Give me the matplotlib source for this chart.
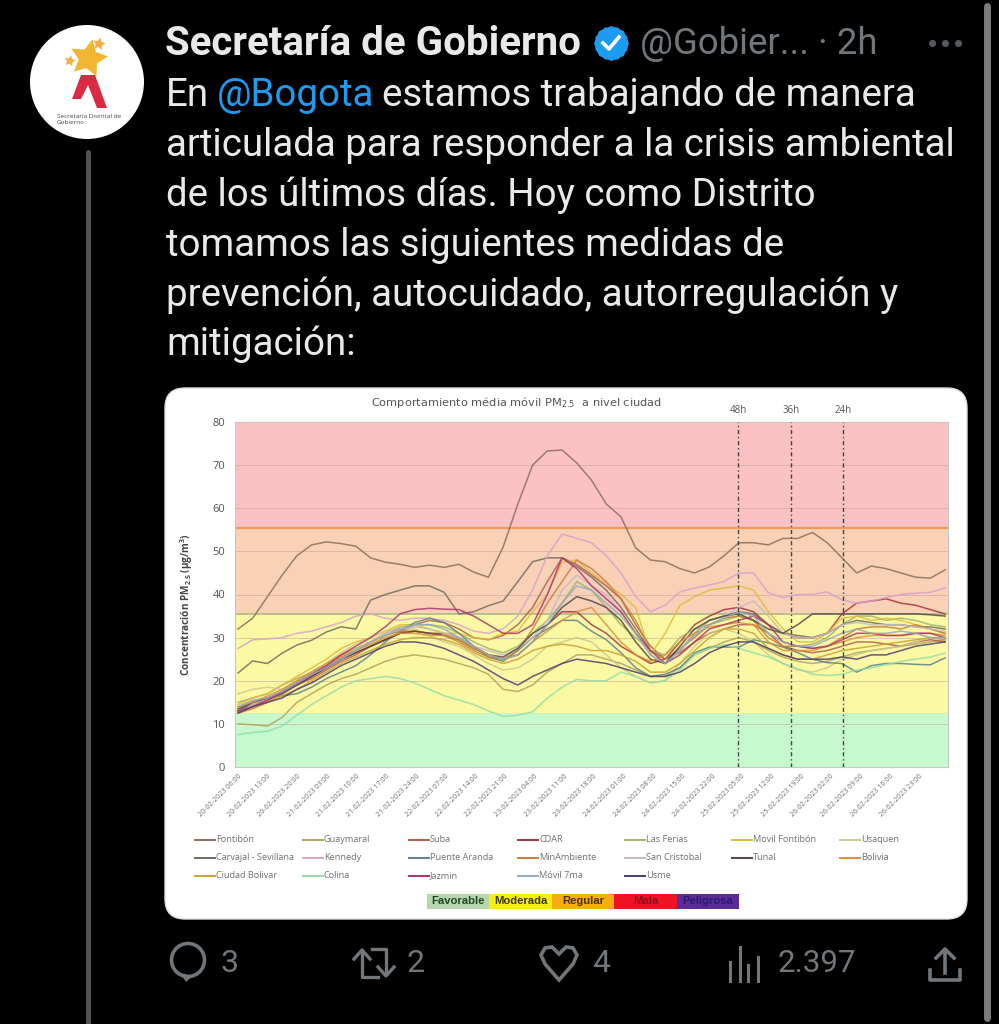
#!/usr/bin/env python3
# -*- coding: utf-8 -*-

import numpy as np
import matplotlib
matplotlib.use('Agg')
import matplotlib.pyplot as plt
from matplotlib.patches import Circle, FancyBboxPatch, Polygon, Rectangle

W, H = 999, 1024

# Datos: un valor cada 3.5 h desde 20-02 06:00
horas = np.arange(49) * 3.5

fontibon = [32, 34.5, 39.5, 44.5, 49, 51.5, 52.2, 51.8, 51.2, 48.5,
            47.5, 47, 46.3, 46.8, 46.3, 47, 45.2, 44, 51, 61,
            70, 73.3, 73.5, 70.5, 66.5, 61, 58, 50.8, 48, 47.6,
            46, 45, 46.4, 49, 52, 52, 51.5, 53, 53, 54.4,
            52, 48.5, 45, 46.6, 46, 45, 44, 43.8, 45.7]
guaymaral = [10, 9.8, 9.5, 11.5, 15, 17, 19, 20.5, 21.5, 23,
             24.5, 25.5, 26, 25.5, 25, 24, 23, 21.5, 18, 17.5,
             19, 22, 24, 26, 26, 25, 24, 22.5, 21, 21,
             23, 26, 27.5, 29, 30, 29, 27, 25.5, 24.5, 24,
             24.5, 25.5, 26.5, 27, 27.5, 28, 28.5, 29, 29.5]
suba = [13, 14.5, 15.5, 17, 19, 20.5, 22.5, 24.5, 26, 28,
        29.5, 31, 33, 34, 33.5, 32, 30, 29.5, 30.5, 33,
        37, 43, 48.5, 47, 44.5, 42, 39, 33, 28, 25,
        26.5, 29, 31, 32, 33, 33, 31, 28, 27, 26.5,
        27, 28, 29, 29, 28.5, 28, 29, 29.5, 29]
cdar = [13, 15, 16, 17.5, 19, 21, 23, 25, 26.5, 28,
        29.5, 31, 31.5, 31, 31, 30, 28, 26, 25, 26,
        29, 33, 36, 36, 33, 31, 28, 26, 24, 25,
        29, 33, 35, 36.5, 37, 36, 33, 31, 30, 30,
        31, 35.5, 38, 38.5, 39, 38, 37.5, 36.5, 35.5]
las_ferias = [15, 16, 17, 19, 20.5, 22, 24, 26, 27.5, 29,
              31, 32.5, 33, 33, 32.5, 31, 29, 27.5, 26.5, 28,
              31, 34, 38, 43, 41, 37, 33, 30, 27, 26,
              30, 32, 33, 34, 35, 34, 31, 29, 28, 28.5,
              30, 33, 35, 35, 34, 34.5, 34, 33, 32.5]
movil_fontibon = [14.5, 16, 17, 19, 21, 23, 25, 27.5, 29, 30,
                  31.5, 33, 33, 32, 31, 31, 30, 29.5, 31, 31.5,
                  36, 40, 47.5, 48, 45, 42.5, 40, 37, 26, 31,
                  37.5, 39.5, 41, 41.5, 42, 41, 36, 32, 29, 29,
                  31, 34.5, 35, 34, 34.5, 34, 33, 32, 31]
usaquen = [17, 18, 18.5, 18, 20, 22, 24, 26.5, 28.5, 30,
           31.5, 32, 32, 30.5, 29, 28, 26, 24, 22.5, 23,
           25, 28, 29, 30, 29, 26, 23, 21, 19.5, 20,
           24, 28, 31, 32, 31, 29, 26, 24, 22.5, 22,
           23, 25, 26, 27, 27.5, 28, 29, 30, 30]
carvajal = [21.8, 24.6, 24, 26.4, 28.3, 29.4, 31.3, 32.5, 32, 38.7,
            40, 41, 42, 42, 40.5, 35.5, 36, 37.4, 38.5, 43,
            47.6, 48.5, 48.5, 46.5, 44, 41, 37, 32, 27, 25,
            27, 31, 34, 35, 36, 35.5, 33, 31, 30.5, 30,
            31, 33, 34, 33.5, 33, 33, 32.5, 32.5, 32]
kennedy = [27.5, 29.5, 29.7, 30, 31, 31.5, 32.5, 33.5, 35, 35.5,
           34.5, 34, 34.5, 34.5, 34, 33, 31.5, 31, 32, 35,
           41, 49, 54, 53, 52, 49, 45, 39.5, 36, 37.5,
           40.6, 41.5, 42.2, 43, 45, 45, 40.4, 39.3, 40, 40,
           40.6, 38.8, 38, 38.5, 39.3, 40, 40.3, 40.5, 41.5]
puente_aranda = [13, 15, 16, 16.5, 17, 18.5, 20.5, 22, 23.5, 26,
                 29, 31.5, 33.5, 34.5, 33.5, 31, 28, 25.5, 24.5, 27,
                 30, 32, 34, 34, 31.5, 29.5, 26.5, 23, 21, 21.5,
                 23, 26.5, 27.8, 27.8, 27.8, 29.5, 28.8, 27.8, 26.5, 25,
                 24.2, 24, 22, 23.5, 24, 24, 23.8, 23.7, 25.3]
min_ambiente = [12.5, 13.5, 15, 17, 19.5, 21.5, 23.5, 25.5, 27, 29,
                30.5, 31.5, 31.5, 31, 30.5, 29, 27, 25.5, 25, 27,
                32, 38, 43, 48, 46, 43, 39, 34, 27, 25,
                27.5, 30, 33, 34.5, 35, 34, 30, 28, 28, 27.5,
                28, 30, 32, 32.5, 32.5, 32, 33, 32, 31]
san_cristobal = [12.5, 14.5, 16, 17, 19, 21.5, 23.5, 25, 27, 29,
                 31, 32, 32.5, 32, 31, 30, 28, 27, 26, 27.5,
                 30, 34, 41, 44.5, 42, 40, 36, 31, 26, 24,
                 27, 31, 34, 35, 37, 38.5, 35, 31, 30, 30,
                 31, 33, 33.5, 33, 33, 33, 32.5, 32, 31.5]
tunal = [13.5, 15, 16, 17, 19, 21, 23, 25, 26.5, 28,
         29.5, 31, 31.5, 31, 30.5, 29.5, 27.5, 26, 25.5, 27.5,
         31, 33, 37, 39.5, 38.5, 37, 34, 29, 25, 24,
         28, 32, 34, 35, 35.5, 34, 32, 31, 33, 35.5,
         35.5, 35.5, 35.5, 35.5, 35.5, 35.5, 35.5, 35.3, 35]
bolivia = [14, 15, 16.5, 18, 20, 22, 24, 26, 27, 28.5,
           30, 31, 31, 30.5, 30.5, 29.5, 27.5, 26, 25, 26,
           29, 31.5, 34, 36, 37, 33, 29, 26, 24.5, 26,
           29, 31, 32.5, 33, 33.5, 33, 29, 27, 27, 27,
           28, 29, 30, 30.5, 30.5, 30.5, 31, 31, 30.5]
ciudad_bolivar = [12.5, 14, 15, 16.5, 18, 20, 22, 24, 25.5, 27,
                  28.5, 29.5, 30, 30, 29.5, 28.5, 26.5, 25, 24, 25,
                  27, 28, 28.5, 28, 27, 27, 26, 24.5, 22, 22,
                  24, 27, 30, 32, 32, 31, 27.5, 26, 25, 25,
                  26, 27, 27.5, 28, 28.5, 29, 29.5, 30, 29.5]
colina = [7.5, 8, 8.3, 9.5, 12, 14.5, 16.5, 18.5, 20, 20.5,
          21, 20.5, 19.5, 18, 16.5, 15.5, 14.5, 13, 11.7, 12,
          12.8, 16, 18.5, 20.3, 20, 20, 22, 21, 19.5, 20,
          22.5, 26, 27.5, 28.3, 27.5, 26.5, 25.5, 24, 22.8, 21.5,
          21.2, 21.5, 22.5, 23, 23.7, 24.5, 25, 25.5, 26.4]
jazmin = [13, 14, 15.5, 17.5, 19.5, 21.5, 23.5, 26, 28, 30,
          32.5, 35.5, 36.5, 36.8, 36.6, 36.5, 35, 33, 31, 31,
          33, 40, 48.5, 46, 42, 39, 36, 31, 27, 24,
          26, 29, 32, 33, 34, 35, 33, 29, 28, 27.5,
          28, 29.5, 31, 31, 30.5, 30.5, 31, 31, 30]
movil_7ma = [14, 15.5, 16, 17.5, 19.5, 21.5, 23, 25, 27, 29,
             30.5, 32, 33, 33, 32, 30, 28, 26, 25, 26,
             29, 33, 38, 42, 41, 38, 35, 31, 26, 24,
             27, 30.5, 33, 34.5, 36, 35, 31, 29, 28, 28,
             29.5, 31, 32, 31, 31, 31.5, 31, 30, 30]
usme = [12.5, 14, 15, 16, 18, 19.5, 21.5, 23.5, 25, 26.5,
        28, 29, 29, 28.5, 27.5, 26, 24.5, 22.5, 20.5, 19,
        21, 22.5, 24, 25, 24.5, 24, 23, 22, 21, 21,
        22, 24, 26.5, 28, 29, 29, 27.5, 26, 25, 25,
        25, 25.5, 25, 26, 26, 27, 28, 28.5, 29]

# Orden de la leyenda, fila por fila
series = [('Fontibón', fontibon, '#8c6f5c'), ('Guaymaral', guaymaral, '#b3a25e'),
          ('Suba', suba, '#b65a4e'), ('CDAR', cdar, '#a83242'),
          ('Las Ferias', las_ferias, '#9fb36c'), ('Movil Fontibón', movil_fontibon, '#e2bb3c'),
          ('Usaquen', usaquen, '#cdc88c'), ('Carvajal - Sevillana', carvajal, '#736c60'),
          ('Kennedy', kennedy, '#d8a2cc'), ('Puente Aranda', puente_aranda, '#5a8290'),
          ('MinAmbiente', min_ambiente, '#cc7c3c'), ('San Cristobal', san_cristobal, '#c6bac2'),
          ('Tunal', tunal, '#50484a'), ('Bolivia', bolivia, '#dc9038'),
          ('Ciudad Bolivar', ciudad_bolivar, '#c9a232'), ('Colina', colina, '#92dfaa'),
          ('Jazmin', jazmin, '#b23272'), ('Móvil 7ma', movil_7ma, '#92a9c0'),
          ('Usme', usme, '#4c3c72')]

etiquetas_x = ['20-02-2023 06:00', '20-02-2023 13:00', '20-02-2023 20:00',
               '21-02-2023 03:00', '21-02-2023 10:00', '21-02-2023 17:00',
               '21-02-2023 24:00', '22-02-2023 07:00', '22-02-2023 14:00',
               '22-02-2023 21:00', '23-02-2023 04:00', '23-02-2023 11:00',
               '23-02-2023 18:00', '24-02-2023 01:00', '24-02-2023 08:00',
               '24-02-2023 15:00', '24-02-2023 22:00', '25-02-2023 05:00',
               '25-02-2023 12:00', '25-02-2023 19:00', '26-02-2023 02:00',
               '26-02-2023 09:00', '26-02-2023 16:00', '26-02-2023 23:00']

bandas = [(0, 12.5, '#c7f9cf'), (12.5, 35.5, '#fbf9a4'),
          (35.5, 55.5, '#f8d1b6'), (55.5, 80, '#fcc1c3')]
marcas_h = [(118.8, '48h'), (131.4, '36h'), (143.7, '24h')]
escala = [('Favorable', '#b7d6ae', '#1f4a26'), ('Moderada', '#f6ee12', '#3a3a10'),
          ('Regular', '#f4ad12', '#4a3208'), ('Mala', '#ee1222', '#8a1020'),
          ('Peligrosa', '#5b2c98', '#2a1a70')]

tuit = ['articulada para responder a la crisis ambiental',
        'de los últimos días. Hoy como Distrito',
        'tomamos las siguientes medidas de',
        'prevención, autocuidado, autorregulación y',
        'mitigación:']

plt.rcParams['mathtext.default'] = 'regular'

fig = plt.figure(figsize=(W / 100, H / 100), dpi=100, facecolor='black')

# Eje de fondo en pixeles para el tuit
bg = fig.add_axes([0, 0, 1, 1])
bg.set_xlim(0, W)
bg.set_ylim(H, 0)
bg.axis('off')

# Linea del hilo, barra de la derecha y avatar
bg.plot([87.5, 87.5], [152, H], color='#505254', lw=3.6, solid_capstyle='round')
bg.plot([987, 987], [6, 1018], color='#7c7c7c', lw=5, solid_capstyle='round')
bg.add_patch(Circle((87, 82), 57, color='white', lw=0))
bg.scatter([88], [58], s=800, marker=(5, 1, -12), color='#f2b632', linewidths=0)
bg.scatter([70, 99], [61, 44], s=[70, 90], marker=(5, 1, -12), color='#f2b04a', linewidths=0)
bg.add_patch(Polygon([(81, 75), (95, 75), (107, 108), (97, 108), (88, 85), (81, 99), (72, 99)],
                     color='#dc2a44', lw=0))
bg.text(57, 116, 'Secretaría Distrital de', fontsize=4.6, color='#444444', va='center', family='Open Sans')
bg.text(57, 123, 'Gobierno', fontsize=4.6, color='#444444', va='center', family='Open Sans')

# Encabezado
bg.text(165, 44, 'Secretaría de Gobierno', fontsize=29, fontweight='bold', color='#e7e9ea',
        family='Roboto', va='center')
bg.scatter([611, 611], [43, 43], s=620, marker=(8, 0, 0), color='#1d9bf0', linewidths=0)
bg.scatter([611], [43], s=620, marker=(8, 0, 22.5), color='#1d9bf0', linewidths=0)
bg.plot([603, 609, 619], [43, 49, 37], color='white', lw=2.6)
bg.text(640, 44, '@Gobier... · 2h', fontsize=26.4, color='#71767b', family='Roboto', va='center')
bg.scatter([932, 945, 958], [43, 43, 43], s=26, color='#55595d', linewidths=0)

# Texto del tuit
f_tuit = dict(fontsize=27.7, family='Roboto', va='center')
bg.text(166, 96, 'En', color='#e7e9ea', **f_tuit)
bg.text(217, 96, '@Bogota', color='#1d9bf0', **f_tuit)
bg.text(382, 96, 'estamos trabajando de manera', color='#e7e9ea', **f_tuit)
for i, linea in enumerate(tuit):
    bg.text(166, 146 + i * 49.6, linea, color='#e7e9ea', **f_tuit)

# Tarjeta blanca con la imagen
bg.add_patch(FancyBboxPatch((183, 406), 766, 495, boxstyle='round,pad=18,rounding_size=20',
                            facecolor='white', edgecolor='#dddddd', lw=1))

# Grafico
ax = fig.add_axes([235 / W, 1 - 767 / H, (948 - 235) / W, (767 - 422) / H])
ax.set_xlim(-0.71, 168.7)
ax.set_ylim(0, 80)
for y0, y1, color in bandas:
    ax.axhspan(y0, y1, color=color, lw=0, zorder=0)
ax.set_yticks(np.arange(0, 81, 10))
ax.grid(axis='y', color='#c9a89a', lw=0.7, alpha=0.6, zorder=1)
ax.set_axisbelow(True)
ax.axhline(55.5, color='#ee9a5a', lw=1.6, zorder=2)
ax.axhline(35.5, color='#b9c08c', lw=1.4, zorder=2)
ax.axhline(12.5, color='#d8efb4', lw=1.0, zorder=2)

for nombre, valores, color in series:
    ax.plot(horas, valores, color=color, lw=1.1, alpha=0.85, zorder=3)

for hora, texto in marcas_h:
    ax.axvline(hora, color='#2a2a2a', lw=1.0, alpha=0.85, ls=(0, (3, 2, 1, 2)), zorder=4)
    ax.text(hora, 81.5, texto, fontsize=7, color='#555555', ha='center', va='bottom', family='Open Sans')

# Las etiquetas van cada 7 h, un poco mas abiertas que los datos en la imagen
ax.set_xticks(np.arange(24) * 7.04)
ax.set_xticklabels(etiquetas_x, rotation=45, ha='right', rotation_mode='anchor',
                   fontsize=5.1, color='#6f6f6f', family='Open Sans')
ax.tick_params(axis='x', length=0, pad=4)
ax.tick_params(axis='y', length=0, pad=7, labelsize=8, labelcolor='#555555')
for lab in ax.get_yticklabels():
    lab.set_family('Open Sans')
for lado, sp in ax.spines.items():
    sp.set_color('#c8c8c8')
    sp.set_linewidth(0.8)

bg_txt = fig.add_axes([0, 0, 1, 1], facecolor='none')
bg_txt.set_xlim(0, W)
bg_txt.set_ylim(H, 0)
bg_txt.axis('off')

bg_txt.text(516, 402, 'Comportamiento média móvil PM$_{2.5}$  a nivel ciudad', fontsize=8.2,
            color='#555555', ha='center', va='center', family='DejaVu Sans')
bg_txt.text(187, 605, 'Concentración PM$_{2.5}$ (µg/m$^{3}$)', fontsize=7.2, fontweight='bold',
            color='#444444', rotation=90, ha='center', va='center', family='Open Sans')

# Leyenda armada a mano: 7 columnas y 3 filas como en la imagen
col_x = [195, 303, 409, 518, 625, 732, 840]
fila_y = [840, 858, 876]
for i, (nombre, valores, color) in enumerate(series):
    x0 = col_x[i % 7]
    y0 = fila_y[i // 7]
    bg_txt.plot([x0, x0 + 20], [y0, y0], color=color, lw=1.4)
    bg_txt.text(x0 + 21, y0, nombre, fontsize=6.6, color='#707070', va='center', family='Open Sans')

# Escala de colores
ancho = (739 - 427) / len(escala)
for i, (nombre, fondo, letra) in enumerate(escala):
    x0 = 427 + i * ancho
    bg_txt.add_patch(Rectangle((x0, 894), ancho, 15, color=fondo, lw=0))
    bg_txt.text(x0 + ancho / 2, 901.5, nombre, fontsize=8.1, fontweight='bold', color=letra,
                ha='center', va='center', family='Liberation Sans')

# Barra de acciones
gris = '#71767b'
bg.add_patch(Circle((188, 960), 16.5, facecolor='none', edgecolor=gris, lw=2.6))
bg.add_patch(Polygon([(180, 973), (193, 976), (186, 982)], color=gris, lw=0))
bg.text(221, 964, '3', fontsize=23, color=gris, family='Roboto', va='center')
bg.plot([354, 362, 370], [959, 950, 959], color=gris, lw=2.4)
bg.plot([362, 362, 378], [951, 977, 977], color=gris, lw=2.4)
bg.plot([372, 386, 386], [949, 949, 974], color=gris, lw=2.4)
bg.plot([378, 386, 394], [967, 976, 967], color=gris, lw=2.4)
bg.text(406, 964, '2', fontsize=23, color=gris, family='Roboto', va='center')
corazon = [(559, 980), (545, 964), (541, 955), (545, 948), (552, 947), (559, 954),
           (566, 947), (573, 948), (577, 955), (573, 964)]
bg.add_patch(Polygon(corazon, closed=True, facecolor='none', edgecolor=gris, lw=2.6))
bg.text(592, 964, '4', fontsize=23, color=gris, family='Roboto', va='center')
for x, arriba in zip([730, 740, 748, 758], [962, 947, 965, 957]):
    bg.plot([x, x], [arriba, 981], color=gris, lw=2.2)
bg.text(778, 964, '2.397', fontsize=22.5, color=gris, family='Roboto', va='center')
bg.plot([930, 930, 960, 960], [970, 980, 980, 970], color=gris, lw=2.6)
bg.plot([945, 945], [950, 973], color=gris, lw=2.6)
bg.plot([936, 945, 954], [958, 949, 958], color=gris, lw=2.6)

fig.savefig('out.png', dpi=100, facecolor='black')
